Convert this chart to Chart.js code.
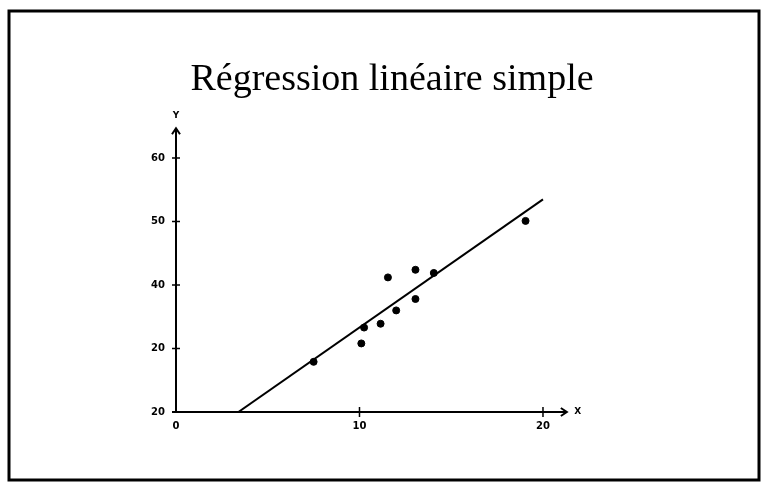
<!DOCTYPE html>
<html>
<head>
<meta charset="utf-8">
<script src="https://cdn.jsdelivr.net/npm/chart.js@4"></script>
<style>
  html, body { margin: 0; padding: 0; background: #fff; }
  #wrap { width: 764px; height: 486px; }
</style>
</head>
<body>
<div id="wrap"><canvas id="c" width="764" height="486"></canvas></div>
<script>
// observed points (x, y)
const pointsX = [7.5, 10.1, 10.25, 11.15, 12.0, 11.55, 13.05, 13.05, 14.05, 19.05];
const pointsY = [27.9, 30.8, 33.3, 33.9, 36.0, 41.2, 37.8, 42.4, 41.9, 50.1];
// fitted line end points
const lineX = [3.4, 20.0];
const lineY = [20.0, 53.5];
// axes
const xTicks = [0, 10, 20];
const xTickLabels = ['0', '10', '20'];
const yTicks = [20, 30, 40, 50, 60];
const yTickLabels = ['20', '20', '40', '50', '60'];
const xRange = [0, 21.3];   // drawn part of the x axis
const yRange = [20, 64.7];
const xScaleMax = 31.8;     // scale keeps going to the right edge, axis stops at xRange[1]

const tickFont = {family: 'DejaVu Sans', size: 10, weight: 'bold'};

const axesPlugin = {
  id: 'axesPlugin',
  beforeDraw(chart) {
    const ctx = chart.ctx;
    ctx.save();
    ctx.fillStyle = '#fff';
    ctx.fillRect(0, 0, chart.width, chart.height);
    ctx.restore();
  },
  afterDraw(chart) {
    const ctx = chart.ctx;
    const xs = chart.scales.x, ys = chart.scales.y;
    const x0 = xs.getPixelForValue(xRange[0]);
    const y0 = ys.getPixelForValue(yRange[0]);
    const xEnd = xs.getPixelForValue(xRange[1]);
    const yEnd = ys.getPixelForValue(yRange[1]);
    ctx.save();
    ctx.strokeStyle = '#000';
    ctx.fillStyle = '#000';
    ctx.lineWidth = 2;
    // axis lines
    ctx.beginPath();
    ctx.moveTo(x0, y0); ctx.lineTo(x0, yEnd);
    ctx.moveTo(x0 - 4, y0); ctx.lineTo(xEnd, y0);
    ctx.stroke();
    // arrows
    ctx.beginPath();
    ctx.moveTo(x0 - 4, yEnd + 6); ctx.lineTo(x0, yEnd); ctx.lineTo(x0 + 4, yEnd + 6);
    ctx.moveTo(xEnd - 6, y0 - 4); ctx.lineTo(xEnd, y0); ctx.lineTo(xEnd - 6, y0 + 4);
    ctx.stroke();
    // crossing tick marks
    ctx.lineWidth = 1.5;
    ctx.beginPath();
    yTicks.forEach((v, i) => {
      if (i === 0) return;
      const p = ys.getPixelForValue(v);
      ctx.moveTo(x0 - 4, p); ctx.lineTo(x0 + 4, p);
    });
    xTicks.forEach((v, i) => {
      if (i === 0) return;
      const p = xs.getPixelForValue(v);
      ctx.moveTo(p, y0 - 5); ctx.lineTo(p, y0 + 5);
    });
    ctx.stroke();
    // axis letters
    ctx.font = 'bold 9px "DejaVu Sans"';
    ctx.textAlign = 'center';
    ctx.textBaseline = 'middle';
    ctx.fillText('Y', x0, yEnd - 13);
    ctx.fillText('X', xEnd + 11, y0);
    // frame
    ctx.lineWidth = 3;
    ctx.strokeRect(9, 11, 750, 469);
    ctx.restore();
  }
};

new Chart(document.getElementById('c'), {
  type: 'scatter',
  data: {
    datasets: [
      {
        label: 'points',
        data: pointsX.map((x, i) => ({x: x, y: pointsY[i]})),
        backgroundColor: '#000',
        borderColor: '#000',
        pointRadius: 3.5,
        pointHoverRadius: 3.5
      },
      {
        label: 'droite',
        type: 'line',
        data: lineX.map((x, i) => ({x: x, y: lineY[i]})),
        borderColor: '#000',
        borderWidth: 2,
        pointRadius: 0,
        fill: false
      }
    ]
  },
  options: {
    responsive: false,
    animation: false,
    layout: {padding: {left: 20, right: 0, top: 0, bottom: 0}},
    plugins: {
      legend: {display: false},
      tooltip: {enabled: false},
      title: {
        display: true,
        text: 'Régression linéaire simple',
        color: '#000',
        font: {family: 'Liberation Serif', size: 38, weight: 'normal'},
        padding: {top: 57, bottom: 25.6}
      }
    },
    scales: {
      x: {
        type: 'linear',
        min: xRange[0],
        max: xScaleMax,
        grid: {display: false},
        border: {display: false},
        afterFit: s => { s.height = 74; },
        afterBuildTicks: s => { s.ticks = xTicks.map(v => ({value: v})); },
        ticks: {
          color: '#000',
          font: tickFont,
          padding: 0,
          maxRotation: 0,
          callback: (v) => xTickLabels[xTicks.indexOf(v)]
        }
      },
      y: {
        type: 'linear',
        min: yRange[0],
        max: yRange[1],
        grid: {display: false},
        border: {display: false},
        afterFit: s => { s.width = 156; },
        afterBuildTicks: s => { s.ticks = yTicks.map(v => ({value: v})); },
        ticks: {
          color: '#000',
          font: tickFont,
          padding: 3,
          callback: (v) => yTickLabels[yTicks.indexOf(v)]
        }
      }
    }
  },
  plugins: [axesPlugin]
});
</script>
</body>
</html>
